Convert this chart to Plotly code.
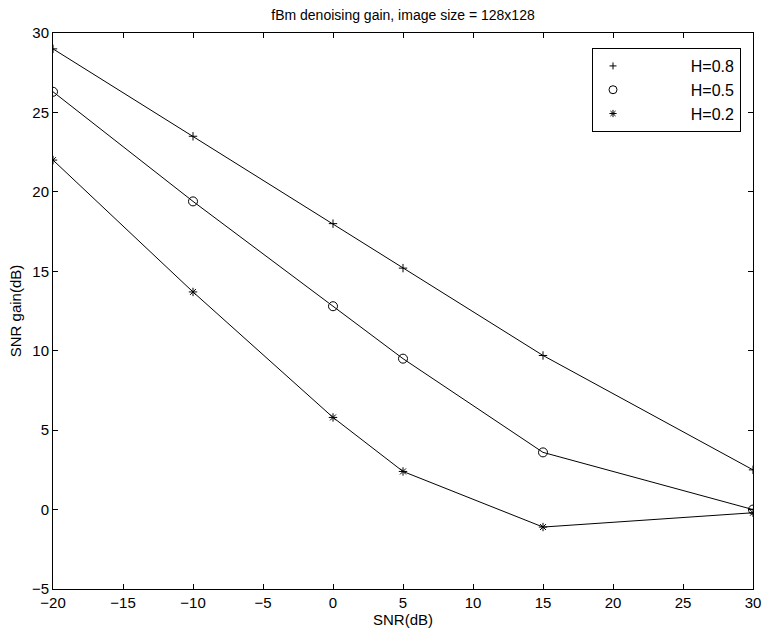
import plotly.graph_objects as go

snr = [-20, -10, 0, 5, 15, 30]
h08 = [29.0, 23.5, 18.0, 15.2, 9.7, 2.5]
h05 = [26.3, 19.4, 12.8, 9.5, 3.6, 0.0]
h02 = [22.0, 13.7, 5.8, 2.4, -1.1, -0.2]
names = ["H=0.8", "H=0.5", "H=0.2"]
series = [h08, h05, h02]
symbols = ["cross-thin-open", "circle-open", "asterisk-open"]
plot_sizes = [6, 9, 7]
legend_sizes = [5, 8, 6]

FONT = "Liberation Sans, Arial, sans-serif"
pad = "\u00a0" * 13

fig = go.Figure()
for name, ys, sym, sz in zip(names, series, symbols, plot_sizes):
    fig.add_trace(go.Scatter(
        x=snr, y=ys, mode="lines+markers", showlegend=False,
        line=dict(color="black", width=1),
        marker=dict(symbol=sym, size=sz, color="black", line=dict(color="black", width=1)),
    ))
for name, ys, sym, sz in zip(names, series, symbols, legend_sizes):
    fig.add_trace(go.Scatter(
        x=[None], y=[None], mode="markers", name=pad + name,
        marker=dict(symbol=sym, size=sz, color="black", line=dict(color="black", width=1)),
    ))

axis_common = dict(
    showline=True, linecolor="black", linewidth=1, mirror="ticks",
    ticks="inside", ticklen=5, tickcolor="black", tickwidth=1,
    showgrid=False, zeroline=False, dtick=5,
    tickfont=dict(family=FONT, size=15, color="black"),
)

fig.update_layout(
    width=770, height=635,
    margin=dict(l=53, r=9, t=33, b=46),
    paper_bgcolor="white", plot_bgcolor="white",
    font=dict(family=FONT, size=15, color="black"),
    title=dict(text="fBm denoising gain, image size = 128x128", x=0.5, xref="paper",
               y=1 - 15 / 635, yanchor="middle", yref="container",
               font=dict(family=FONT, size=14, color="black")),
    xaxis=dict(range=[-20, 30], title=dict(text="SNR(dB)", standoff=2,
               font=dict(family=FONT, size=15)), **axis_common),
    yaxis=dict(range=[-5, 30], title=dict(text="SNR gain(dB)", standoff=6,
               font=dict(family=FONT, size=15)), **axis_common),
    legend=dict(x=0.77, y=0.973, xanchor="left", yanchor="top",
                bordercolor="black", borderwidth=1, bgcolor="white",
                font=dict(family=FONT, size=16, color="black"),
                tracegroupgap=0, itemwidth=30),
)

fig.write_html("out.html")
